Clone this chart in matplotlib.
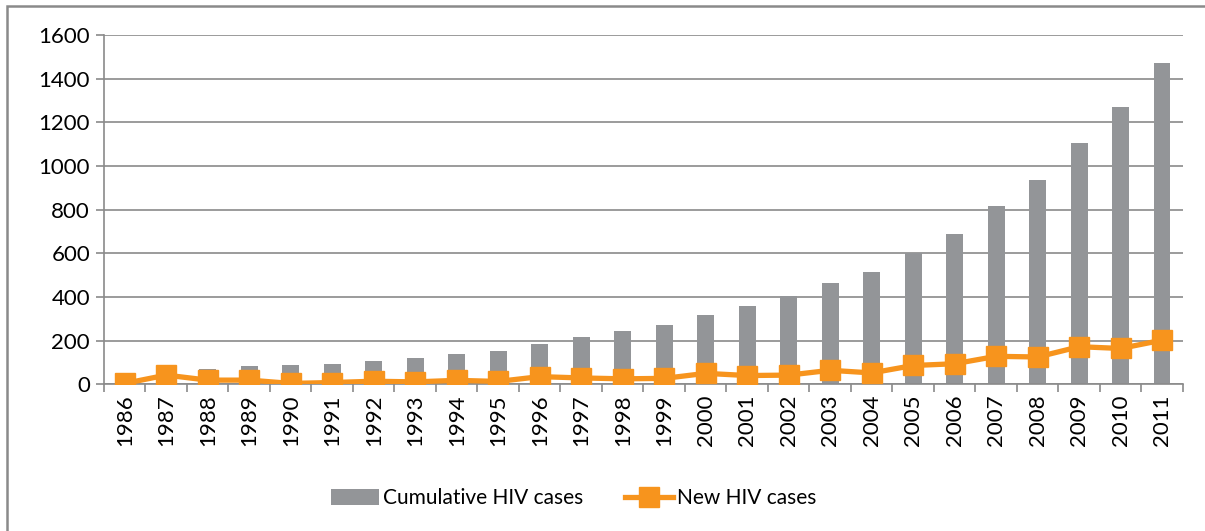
import numpy as np
from matplotlib import pyplot as plt
from matplotlib.patches import Rectangle

# data
years = [str(y) for y in range(1986, 2012)]
cumulative = [5, 50, 70, 84, 88, 96, 107, 122, 140, 154, 187, 218, 244, 271,
              320, 358, 404, 465, 515, 602, 689, 815, 937, 1108, 1272, 1473]
new_cases = [5, 43, 20, 20, 5, 9, 15, 12, 19, 14, 36, 30, 26, 28,
             51, 41, 43, 65, 53, 87, 95, 129, 126, 173, 165, 203]
yticks = [0, 200, 400, 600, 800, 1000, 1200, 1400, 1600]

bar_color = '#939598'
line_color = '#F7941D'
axis_gray = '#8a8a8a'

plt.rcParams['font.family'] = ['Lato', 'DejaVu Sans']

fig = plt.figure(figsize=(12.05, 5.31), dpi=100)
ax = fig.add_axes([0.0863, 0.2759, 0.8954, 0.6581])

x = np.arange(len(years))
bars = ax.bar(x, cumulative, width=0.4, color=bar_color, zorder=2,
              label='Cumulative HIV cases')
line, = ax.plot(x, new_cases, color=line_color, linewidth=3.8, marker='s',
                markersize=14, zorder=3, label='New HIV cases')

ax.set_xlim(-0.5, len(years) - 0.5)
ax.set_ylim(0, 1600)
ax.set_yticks(yticks)
ax.set_yticklabels([str(v) for v in yticks], fontsize=16)
ax.yaxis.grid(True, color=axis_gray, linewidth=1.2, zorder=0)

# category ticks sit between bars, labels centred under bars
ax.set_xticks(np.arange(-0.5, len(years), 1.0))
ax.set_xticklabels([])
ax.set_xticks(x, minor=True)
ax.set_xticklabels(years, minor=True, rotation=90, fontsize=16)
ax.tick_params(axis='x', which='minor', length=0, pad=7)
ax.tick_params(axis='x', which='major', length=6, width=1.2, color=axis_gray)
ax.tick_params(axis='y', length=6, width=1.2, color=axis_gray, pad=4)

for side in ['top', 'right']:
    ax.spines[side].set_visible(False)
for side in ['left', 'bottom']:
    ax.spines[side].set_color(axis_gray)
    ax.spines[side].set_linewidth(1.2)

fig.legend(handles=[bars, line], loc='center', bbox_to_anchor=(0.476, 0.062),
           ncol=2, frameon=False, fontsize=15, handlelength=2.3,
           handleheight=0.77, columnspacing=2.0, handletextpad=0.2)

# outer chart border (left and top edges visible)
fig.patches.append(Rectangle((7 / 1205, -0.2), 1.3, 1.2 - 6 / 531,
                             transform=fig.transFigure, fill=False,
                             edgecolor=axis_gray, linewidth=1.8))

plt.savefig('out.png', dpi=100)
